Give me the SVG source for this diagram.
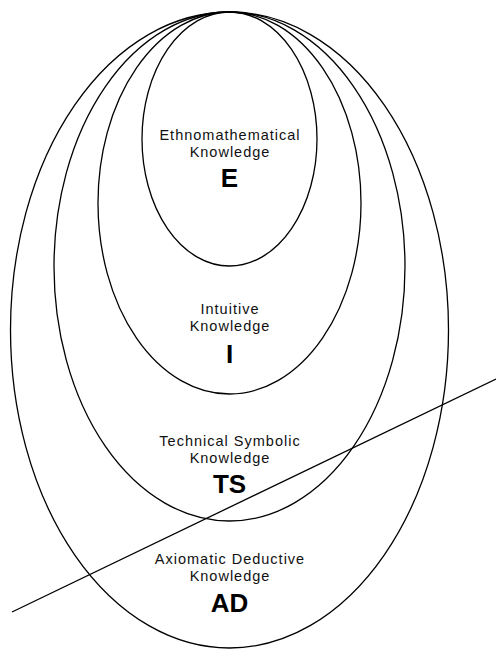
<svg xmlns="http://www.w3.org/2000/svg" width="496" height="651" viewBox="0 0 496 651">
<style>
.ring{fill:none;stroke:#000;stroke-width:1.3}
.lbl{font-family:"Liberation Sans",Arial,sans-serif;font-size:14.5px;letter-spacing:1px;text-anchor:middle;fill:#111}
.big{font-family:"Liberation Sans",Arial,sans-serif;font-size:26px;font-weight:bold;text-anchor:middle;fill:#000}
</style>
<rect width="496" height="651" fill="#fff"/>
<g id="node-AD">
<ellipse class="ring" cx="229.5" cy="330" rx="219" ry="318"/>
<text class="lbl" x="230" y="564">Axiomatic Deductive</text>
<text class="lbl" x="230" y="581">Knowledge</text>
<text class="big" x="229.5" y="612">AD</text>
</g>
<g id="node-TS">
<ellipse class="ring" cx="229.5" cy="266.5" rx="175.5" ry="254.5"/>
<text class="lbl" x="230" y="446">Technical Symbolic</text>
<text class="lbl" x="230" y="463">Knowledge</text>
<text class="big" x="229.5" y="493">TS</text>
</g>
<g id="node-I">
<ellipse class="ring" cx="229.5" cy="203" rx="131.5" ry="191"/>
<text class="lbl" x="230" y="314">Intuitive</text>
<text class="lbl" x="230" y="331">Knowledge</text>
<text class="big" x="229.5" y="363">I</text>
</g>
<g id="node-E">
<ellipse class="ring" cx="229.5" cy="139" rx="87.5" ry="127"/>
<text class="lbl" x="230" y="140">Ethnomathematical</text>
<text class="lbl" x="230" y="157">Knowledge</text>
<text class="big" x="229.5" y="187">E</text>
</g>
<g id="connectors">
<line x1="12" y1="612" x2="496" y2="379" stroke="#000" stroke-width="1.3"/>
</g>
</svg>
